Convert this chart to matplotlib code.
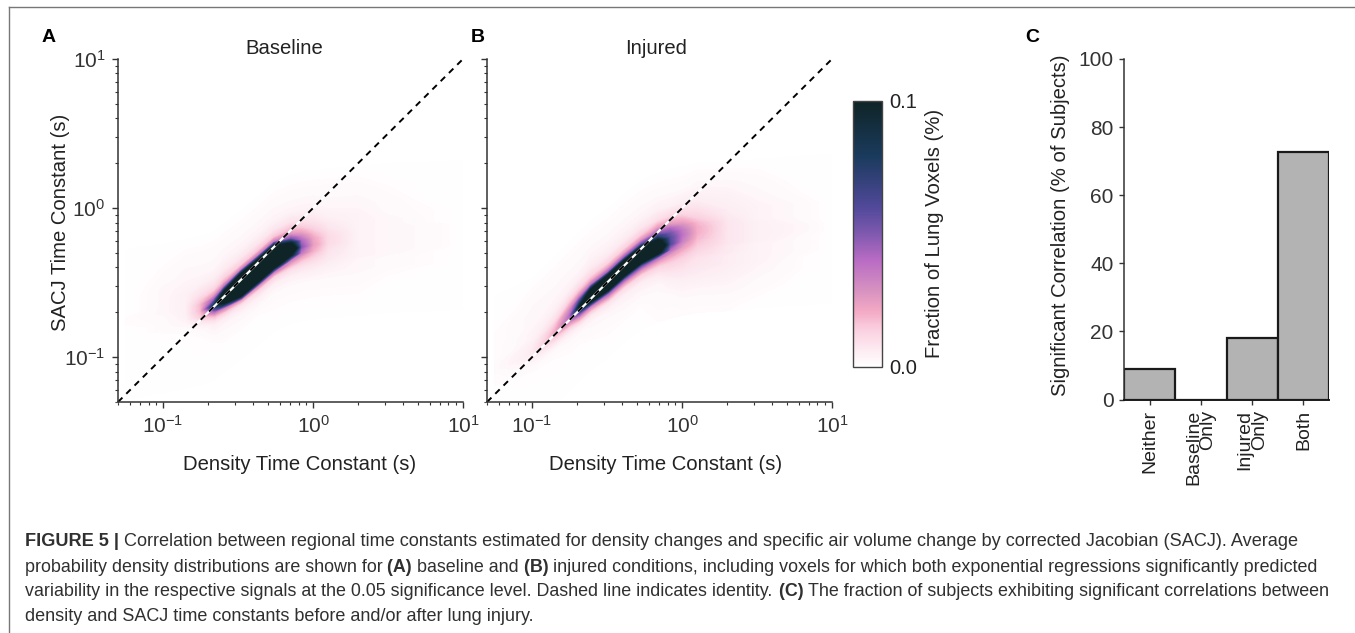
"""Figure 5: density vs SACJ time constants (A, B) and significant correlations (C)."""

import matplotlib
matplotlib.use("Agg")
import matplotlib.pyplot as plt
from matplotlib.colors import LinearSegmentedColormap, Normalize
from matplotlib.cm import ScalarMappable
from matplotlib.ticker import LogLocator, NullFormatter
import numpy as np

W, H = 1355, 633
plt.rcParams["font.family"] = ["Liberation Sans", "DejaVu Sans"]
plt.rcParams["mathtext.default"] = "regular"
plt.rcParams["mathtext.fontset"] = "custom"
plt.rcParams["mathtext.rm"] = "Liberation Sans"

# density map, read along a ridge: log10 of density constant, log10 of SACJ constant
offsets = [-0.5, -0.35, -0.25, -0.18, -0.13, -0.1, -0.07, -0.04, 0, 0.04, 0.07,
           0.1, 0.13, 0.18, 0.25, 0.35, 0.5]

ridge_x_a = [-1.25, -1.0, -0.85, -0.75, -0.66, -0.593, -0.48, -0.367, -0.26, -0.147,
             -0.08, 0.0, 0.1, 0.3, 0.5, 0.8, 1.0]
ridge_y_a = [-0.78, -0.74, -0.71, -0.69, -0.655, -0.6, -0.516, -0.421, -0.327, -0.277,
             -0.26, -0.245, -0.235, -0.22, -0.2, -0.19, -0.18]
# one list per ridge_x value, lowest offset first, units of 0.001 %
density_a = [
    [0, 0, 0, 0, 0, 0, 0, 0, 1, 1, 0, 0, 0, 0, 0, 0, 0],
    [0, 0, 0, 0, 1, 1, 2, 2, 2, 3, 3, 3, 3, 3, 2, 1, 0],
    [0, 0, 0, 1, 1, 2, 3, 4, 5, 5, 5, 5, 5, 4, 3, 2, 0],
    [0, 0, 1, 1, 2, 4, 8, 14, 18, 18, 14, 10, 8, 5, 3, 2, 0],
    [0, 0, 1, 3, 5, 9, 18, 40, 85, 45, 24, 14, 10, 6, 3, 2, 0],
    [0, 0, 2, 3, 7, 14, 32, 95, 145, 100, 40, 20, 13, 7, 4, 2, 0],
    [0, 0, 2, 4, 9, 24, 105, 140, 170, 140, 110, 35, 15, 8, 4, 2, 0],
    [0, 0, 2, 5, 12, 30, 105, 140, 180, 140, 105, 35, 16, 8, 4, 2, 0],
    [0, 1, 2, 5, 13, 35, 105, 140, 180, 140, 105, 35, 16, 8, 4, 2, 0],
    [0, 1, 2, 5, 10, 20, 34, 95, 150, 100, 50, 28, 18, 9, 4, 2, 0],
    [0, 1, 2, 5, 9, 14, 22, 36, 50, 42, 32, 22, 15, 8, 4, 2, 0],
    [0, 1, 2, 5, 8, 11, 15, 20, 24, 22, 18, 14, 11, 7, 4, 2, 0],
    [0, 1, 2, 4, 6, 7, 8, 9, 11, 11, 10, 8, 7, 5, 3, 2, 0],
    [0, 1, 2, 3, 3, 4, 4, 4, 4, 4, 4, 4, 4, 4, 3, 2, 0],
    [0, 0, 1, 2, 2, 3, 3, 3, 3, 3, 3, 3, 3, 2, 2, 1, 0],
    [0, 0, 0, 1, 1, 1, 2, 2, 2, 2, 2, 1, 1, 1, 0, 0, 0],
    [0, 0, 0, 0, 0, 0, 0, 0, 0, 0, 0, 0, 0, 0, 0, 0, 0],
]

ridge_x_b = [-1.25, -1.0, -0.85, -0.75, -0.687, -0.607, -0.493, -0.387, -0.273, -0.16,
             -0.08, 0.0, 0.1, 0.3, 0.5, 0.8, 1.0]
ridge_y_b = [-1.09, -0.97, -0.83, -0.725, -0.664, -0.586, -0.501, -0.405, -0.315, -0.262,
             -0.24, -0.22, -0.2, -0.19, -0.17, -0.15, -0.14]
density_b = [
    [0, 0, 0, 0, 0, 1, 1, 1, 2, 2, 1, 1, 1, 1, 1, 0, 0],
    [0, 0, 0, 1, 1, 2, 3, 5, 7, 6, 5, 4, 4, 3, 3, 2, 0],
    [0, 0, 1, 1, 2, 4, 8, 14, 20, 15, 10, 8, 6, 4, 3, 2, 0],
    [0, 0, 1, 2, 4, 7, 14, 28, 40, 30, 20, 13, 9, 5, 3, 2, 0],
    [0, 0, 1, 2, 5, 12, 26, 55, 95, 55, 30, 17, 11, 6, 3, 2, 0],
    [0, 0, 2, 3, 7, 16, 34, 100, 145, 100, 38, 20, 12, 7, 4, 2, 0],
    [0, 1, 2, 4, 9, 22, 45, 120, 165, 120, 45, 23, 13, 7, 4, 2, 0],
    [0, 1, 3, 5, 11, 24, 50, 120, 175, 120, 48, 23, 13, 7, 4, 2, 0],
    [0, 1, 3, 6, 14, 28, 55, 125, 175, 125, 55, 26, 15, 8, 4, 2, 0],
    [1, 2, 3, 7, 13, 22, 40, 105, 150, 110, 70, 42, 24, 10, 5, 2, 0],
    [1, 2, 5, 9, 13, 18, 26, 40, 60, 58, 52, 42, 26, 12, 5, 2, 0],
    [1, 3, 6, 9, 12, 15, 19, 25, 34, 38, 36, 30, 22, 12, 6, 2, 0],
    [1, 3, 6, 8, 9, 11, 13, 15, 18, 20, 20, 18, 14, 10, 6, 3, 0],
    [1, 3, 5, 6, 6, 7, 7, 8, 8, 8, 8, 8, 7, 6, 5, 3, 0],
    [0, 2, 3, 4, 4, 4, 4, 5, 5, 5, 5, 4, 4, 4, 3, 2, 0],
    [0, 0, 1, 1, 2, 2, 2, 2, 3, 3, 2, 2, 2, 2, 1, 0, 0],
    [0, 0, 0, 0, 0, 0, 0, 0, 0, 0, 0, 0, 0, 0, 0, 0, 0],
]

categories = ["Neither", "Baseline\nOnly", "Injured\nOnly", "Both"]
percent_subjects = [9.09, 0, 18.18, 72.73]
percent_ticks = [0, 20, 40, 60, 80, 100]

cmap_stops = [0.0, 0.05, 0.14, 0.21, 0.29, 0.40, 0.51, 0.60, 0.79, 1.0]
cmap_colors = ["#ffffff", "#fdf0f5", "#fad0df", "#f3a9c4", "#d691c0", "#b96cc4",
               "#7a58ad", "#51499a", "#1b3b5e", "#0f2426"]

caption = [
    [("FIGURE 5 | ", True),
     ("Correlation between regional time constants estimated for density changes and "
      "specific air volume change by corrected Jacobian (SACJ). Average", False)],
    [("probability density distributions are shown for ", False), ("(A) ", True),
     ("baseline and ", False), ("(B) ", True),
     ("injured conditions, including voxels for which both exponential regressions "
      "significantly predicted", False)],
    [("variability in the respective signals at the 0.05 significance level. Dashed line "
      "indicates identity. ", False), ("(C) ", True),
     ("The fraction of subjects exhibiting significant correlations between", False)],
    [("density and SACJ time constants before and/or after lung injury.", False)],
]
caption_right = [1305, 1316, 1331, 535]
caption_y = [541.7, 567, 591.7, 616.7]

INK = "#333333"
cmap = LinearSegmentedColormap.from_list("voxels", list(zip(cmap_stops, cmap_colors)), N=512)
cmap.set_over(cmap_colors[-1])
norm = Normalize(0, 0.1)

fig = plt.figure(figsize=(W / 100, H / 100), dpi=100)


def axes_px(left, top, right, bottom):
    return fig.add_axes([left / W, 1 - bottom / H, (right - left) / W, (bottom - top) / H])


def text_px(x, y, s, **kw):
    kw.setdefault("ha", "center")
    kw.setdefault("va", "center")
    return fig.text(x / W, 1 - y / H, s, **kw)


def density_panel(ax, ridge_x, ridge_y, density):
    xx = np.repeat(np.array(ridge_x)[:, None], len(offsets), axis=1)
    yy = np.array(ridge_y)[:, None] + np.array(offsets)[None, :]
    ax.set_xscale("log")
    ax.set_yscale("log")
    ax.contourf(10.0 ** xx, 10.0 ** yy, np.array(density) / 1000.0,
                levels=np.linspace(0, 0.1, 201), cmap=cmap, norm=norm, extend="max")
    ax.plot([0.05, 10], [0.05, 10], color="white", lw=1.6, clip_on=False)
    ax.plot([0.05, 10], [0.05, 10], color="black", lw=1.4, dashes=(3.2, 2.8), clip_on=False)
    ax.set_xlim(0.05, 10)
    ax.set_ylim(0.05, 10)
    for side in ("top", "right"):
        ax.spines[side].set_visible(False)
    for side in ("left", "bottom"):
        ax.spines[side].set_color(INK)
        ax.spines[side].set_linewidth(1.1)
    for axis in (ax.xaxis, ax.yaxis):
        axis.set_major_locator(LogLocator(base=10, numticks=5))
        axis.set_minor_locator(LogLocator(base=10, subs=np.arange(2, 10), numticks=12))
        axis.set_minor_formatter(NullFormatter())
    ax.tick_params(which="major", length=4, width=1.0, color=INK, labelcolor=INK,
                   labelsize=15, pad=5)
    ax.tick_params(which="minor", length=2.4, width=0.8, color=INK)


ax_a = axes_px(118, 59, 463, 402)
density_panel(ax_a, ridge_x_a, ridge_y_a, density_a)

ax_b = axes_px(487, 59, 832, 402)
density_panel(ax_b, ridge_x_b, ridge_y_b, density_b)
ax_b.tick_params(axis="y", which="both", labelleft=False)

cax = axes_px(853, 101, 882, 367)
cb = fig.colorbar(ScalarMappable(norm=norm, cmap=cmap), cax=cax, ticks=[0, 0.1], format="%.1f")
cb.ax.tick_params(length=0, labelsize=14.5, pad=5, labelcolor="#222222")
cb.outline.set_edgecolor("#444444")
cb.outline.set_linewidth(1.0)

ax_c = axes_px(1124, 59, 1329, 399.5)
bar_x = np.arange(1, len(categories) + 1)
ax_c.bar(bar_x, percent_subjects, width=1.0, color="#b3b3b3", edgecolor="#1a1a1a", linewidth=1.6)
ax_c.set_xlim(0.5, 4.5)
ax_c.set_ylim(0, 100)
ax_c.set_yticks(percent_ticks)
ax_c.set_xticks(bar_x)
ax_c.set_xticklabels(categories, rotation=90, fontsize=14, color="#222222",
                     multialignment="right", linespacing=0.8)
ax_c.spines["top"].set_visible(False)
ax_c.spines["right"].set_visible(False)
ax_c.spines["left"].set_color(INK)
ax_c.spines["left"].set_linewidth(1.1)
ax_c.spines["bottom"].set_color("#1a1a1a")
ax_c.spines["bottom"].set_linewidth(1.4)
ax_c.tick_params(axis="y", length=3.5, width=1.0, color=INK, labelcolor=INK, labelsize=15, pad=4)
ax_c.tick_params(axis="x", length=3.5, width=1.0, color=INK, pad=4)

LABEL = dict(fontsize=14.6, color="#222222")
text_px(284, 48, "Baseline", **LABEL)
text_px(656, 48, "Injured", **LABEL)
text_px(299.5, 465, "Density Time Constant (s)", **LABEL)
text_px(666, 465, "Density Time Constant (s)", **LABEL)
text_px(61, 222, "SACJ Time Constant (s)", rotation=90, **LABEL)
text_px(935, 233, "Fraction of Lung Voxels (%)", rotation=90, **LABEL)
text_px(1060, 225, "Significant Correlation (% of Subjects)", rotation=90, **LABEL)

for x, letter in [(48.5, "A"), (477.5, "B"), (1032, "C")]:
    text_px(x, 37, letter, fontsize=14, fontweight="bold", color="black")

# frame round the figure
frame_color = "#777777"
fig.add_artist(plt.Line2D([9 / W, 9 / W], [0, 1 - 7 / H], color=frame_color, lw=1.0))
fig.add_artist(plt.Line2D([9 / W, 1354 / W], [1 - 7 / H, 1 - 7 / H], color=frame_color, lw=1.0))

# caption lines, each fitted to the width it has in the page
renderer = fig.canvas.get_renderer()
for runs, right, y in zip(caption, caption_right, caption_y):
    pieces = [text_px(25, y, s, ha="left", fontsize=12, color="#303030",
                      fontweight="bold" if bold else "normal") for s, bold in runs]
    widths = [p.get_window_extent(renderer).width for p in pieces]
    scale = (right - 25) / sum(widths)
    x = 25
    for p, w in zip(pieces, widths):
        p.set_fontsize(12 * scale)
        p.set_x(x / W)
        x += w * scale

fig.savefig("out.png", dpi=100)
